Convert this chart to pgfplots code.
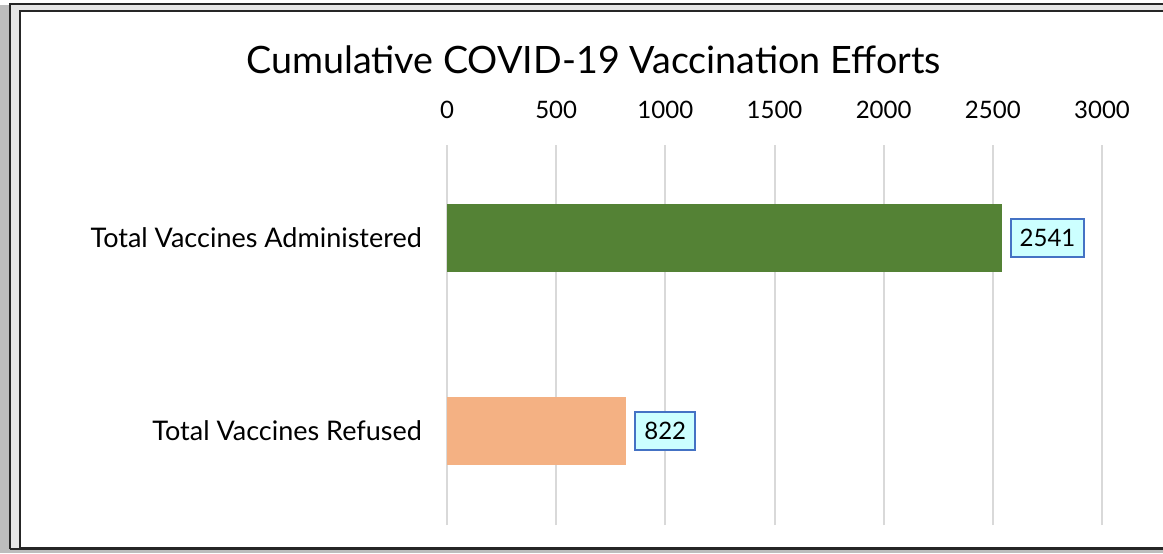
\documentclass[border=0pt]{standalone}
\usepackage{fontspec}
\setmainfont{Lato}
\usepackage{pgfplots}
\pgfplotsset{compat=1.18}
\definecolor{barA}{HTML}{548235}
\definecolor{barB}{HTML}{F4B183}
\definecolor{lblfill}{HTML}{CCFFFF}
\definecolor{lbldraw}{HTML}{4472C4}
\definecolor{gridc}{HTML}{D9D9D9}
\definecolor{shadowc}{HTML}{BDBDBD}
\definecolor{framec}{HTML}{E6E6E6}
\begin{document}
\begin{tikzpicture}
\useasboundingbox (0pt,0pt) rectangle (581.5pt,276.5pt);
% frame (y measured from bottom)
\fill[shadowc] (0pt,0pt) rectangle (581.5pt,274pt);
\fill[framec] (4.75pt,2.25pt) rectangle (585pt,274.25pt);
\draw[black!85, line width=1pt] (4.75pt,2.25pt) -- (4.75pt,274.25pt) -- (585pt,274.25pt);
\fill[white] (9.75pt,2.75pt) rectangle (585pt,270.75pt);
\draw[black!85, line width=1pt] (9.75pt,2.75pt) rectangle (585pt,270.75pt);
\draw[black!85, line width=1pt] (4.75pt,2.25pt) -- (585pt,2.25pt);
\node[font=\fontsize{18.85}{22}\selectfont, inner sep=0pt] at (296.75pt,246.5pt) {Cumulative COVID-19 Vaccination Efforts};
\begin{axis}[
  at={(223.5pt,14pt)}, anchor=south west,
  scale only axis, width=327.5pt, height=190pt,
  xbar, bar width=34pt,
  xmin=0, xmax=3000, ymin=-0.487, ymax=1.482,
  ytick={0,1},
  yticklabels={Total Vaccines Refused,Total Vaccines Administered},
  xtick={0,500,1000,1500,2000,2500,3000},
  xticklabel pos=upper,
  axis line style={draw=none},
  major tick length=0pt,
  xmajorgrids,
  grid style={gridc, line width=1pt},
  xticklabel style={font=\fontsize{12}{14}\selectfont, yshift=9.5pt},
  yticklabel style={font=\fontsize{13.5}{16}\selectfont, xshift=-9pt},
  /pgf/number format/assume math mode=true,
  /pgf/number format/set thousands separator={},
  nodes near coords,
  nodes near coords style={font=\fontsize{12}{14}\selectfont, anchor=west, xshift=4pt,
    fill=lblfill, draw=lbldraw, line width=0.9pt, inner xsep=4.5pt, inner ysep=5pt,
    /pgf/number format/assume math mode=true, /pgf/number format/set thousands separator={}},
]
\addplot[fill=barA, draw=none, bar shift=0pt] coordinates {(2541,1)};
\addplot[fill=barB, draw=none, bar shift=0pt] coordinates {(822,0)};
\end{axis}
\end{tikzpicture}
\end{document}
